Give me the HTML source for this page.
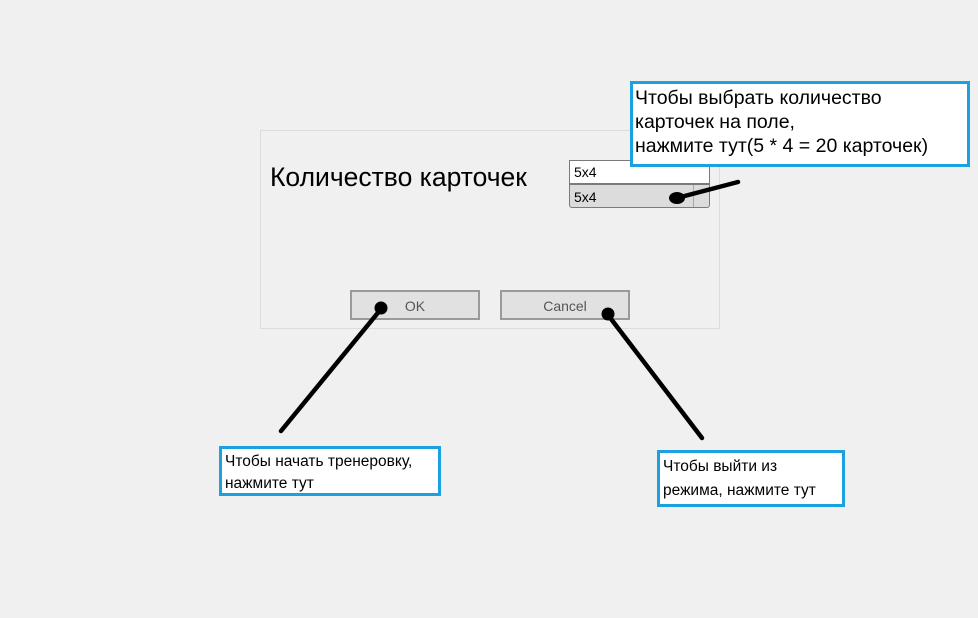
<!DOCTYPE html>
<html><head><meta charset="utf-8"><style>
body{margin:0;width:978px;height:618px;background:#f0f0f0;position:relative;overflow:hidden;font-family:"Liberation Sans","DejaVu Sans",sans-serif}
.a{position:absolute;box-sizing:border-box}
.box{border:3px solid #1ba1e2;background:#fff;color:#000;white-space:nowrap}
</style></head><body>
<div class="a" style="left:260px;top:130px;width:460px;height:199px;border:1px solid #dcdcdc"></div>
<div class="a" style="left:270px;top:162px;font-size:26.5px;color:#000;white-space:nowrap">Количество карточек</div>
<div class="a" style="left:569px;top:160px;width:141px;height:24px;background:#fff;border:1px solid #7a7a7a;font-size:14px;padding:3px 4px">5x4</div>
<div class="a" style="left:569px;top:184px;width:141px;height:24px;background:#dcdcdc;border:1px solid #7a7a7a;border-radius:0 0 3px 3px;font-size:14px;padding:4px 4px">5x4</div>
<div class="a" style="left:693px;top:185px;width:1px;height:22px;background:#aaa"></div>
<div class="a" style="left:350px;top:290px;width:130px;height:30px;background:#e1e1e1;border:2px solid #9a9a9a;font-size:14px;color:#555;text-align:center;line-height:28px">OK</div>
<div class="a" style="left:500px;top:290px;width:130px;height:30px;background:#e1e1e1;border:2px solid #9a9a9a;font-size:14px;color:#555;text-align:center;line-height:28px">Cancel</div>
<div class="a box" style="left:630px;top:81px;width:340px;height:86px;font-size:19.5px;line-height:24px;padding:2px 2px">Чтобы выбрать количество<br>карточек на поле,<br>нажмите тут(5 * 4 = 20 карточек)</div>
<div class="a box" style="left:219px;top:446px;width:222px;height:50px;font-size:15.5px;line-height:22px;padding:2px 3px">Чтобы начать тренеровку,<br>нажмите тут</div>
<div class="a box" style="left:657px;top:450px;width:188px;height:57px;font-size:15.5px;line-height:24px;padding:2px 3px">Чтобы выйти из<br>режима, нажмите тут</div>
<svg class="a" style="left:0;top:0" width="978" height="618">
<g stroke="#000" stroke-width="4.5" stroke-linecap="round">
<line x1="677" y1="198" x2="738" y2="182"/>
<line x1="381" y1="309" x2="281" y2="431"/>
<line x1="608" y1="315" x2="702" y2="438"/>
</g>
<ellipse cx="677" cy="198" rx="8" ry="6" fill="#000"/>
<circle cx="381" cy="308" r="6.5" fill="#000"/>
<circle cx="608" cy="314" r="6.5" fill="#000"/>
</svg>
</body></html>
